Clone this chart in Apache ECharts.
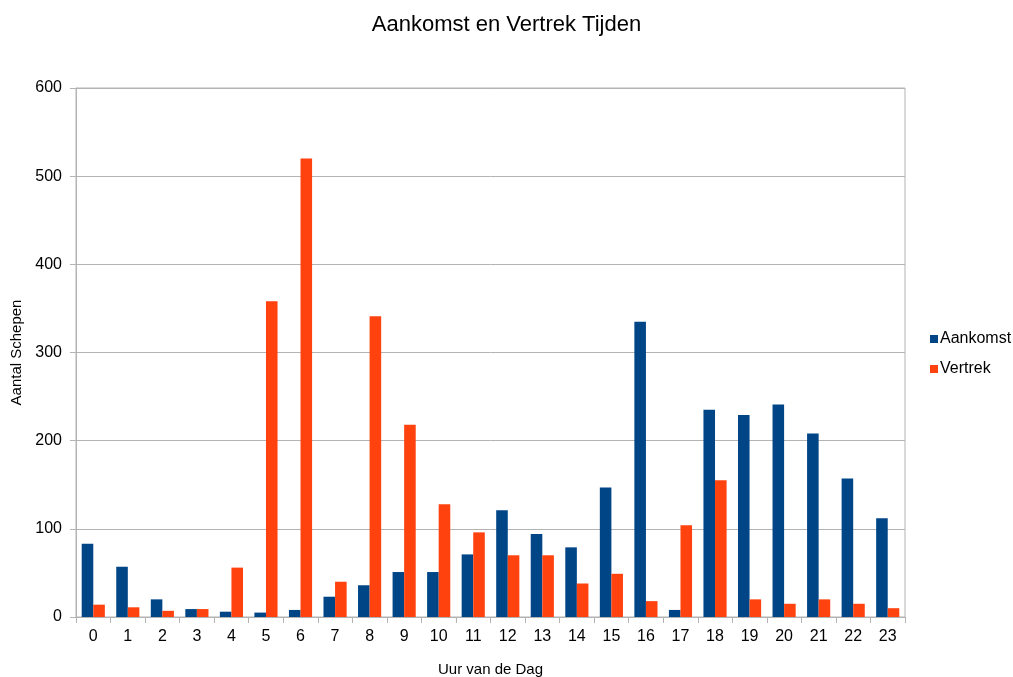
<!DOCTYPE html>
<html><head><meta charset="utf-8">
<script src="https://cdn.jsdelivr.net/npm/echarts@6/dist/echarts.min.js"></script>
<style>html,body{margin:0;padding:0;background:#fff}#c{width:1013px;height:677px}</style>
</head><body><div id="c"></div>
<script>
const hours = ['0','1','2','3','4','5','6','7','8','9','10','11','12','13','14','15','16','17','18','19','20','21','22','23'];
const aankomst = [83,57,20,9,6,5,8,23,36,51,51,71,121,94,79,147,335,8,235,229,241,208,157,112];
const vertrek = [14,11,7,9,56,358,520,40,341,218,128,96,70,70,38,49,18,104,155,20,15,20,15,10];
const yTicks = [0,100,200,300,400,500,600];

const chart = echarts.init(document.getElementById('c'));
chart.setOption({
  animation:false,
  textStyle:{fontFamily:'Liberation Sans, Arial, sans-serif'},
  title:{text:'Aankomst en Vertrek Tijden',left:'center',top:9,
    textStyle:{fontSize:22,fontWeight:'normal',color:'#000'}},
  legend:{orient:'vertical',left:930,top:331,padding:0,itemWidth:8,itemHeight:8,itemGap:14,icon:'rect',
    textStyle:{fontSize:16,color:'#000',padding:[0,0,0,-3]},data:['Aankomst','Vertrek']},
  grid:{left:76,right:108,top:88,bottom:60,show:true,borderColor:'#b3b3b3',borderWidth:1,outerBoundsMode:'none'},
  xAxis:{type:'category',data:hours,name:'Uur van de Dag',nameLocation:'middle',nameGap:45,
    nameTextStyle:{fontSize:15,color:'#000'},
    axisLine:{lineStyle:{color:'#b3b3b3'}},
    axisTick:{show:true,length:6,lineStyle:{color:'#b3b3b3'}},
    axisLabel:{fontSize:16,color:'#000',margin:12}},
  yAxis:{type:'value',min:yTicks[0],max:yTicks[yTicks.length-1],interval:100,
    name:'Aantal Schepen',nameLocation:'middle',nameGap:50,
    nameTextStyle:{fontSize:15,color:'#000'},
    axisLine:{show:true,lineStyle:{color:'#b3b3b3'}},
    axisTick:{show:true,length:6,lineStyle:{color:'#b3b3b3'}},
    axisLabel:{fontSize:16,color:'#000',margin:14},
    splitLine:{lineStyle:{color:'#b3b3b3'}}},
  series:[
    {name:'Aankomst',type:'bar',data:aankomst,barGap:'0%',barCategoryGap:'33%',itemStyle:{color:'#004586'}},
    {name:'Vertrek',type:'bar',data:vertrek,itemStyle:{color:'#ff420e'}}
  ]
});
</script></body></html>
